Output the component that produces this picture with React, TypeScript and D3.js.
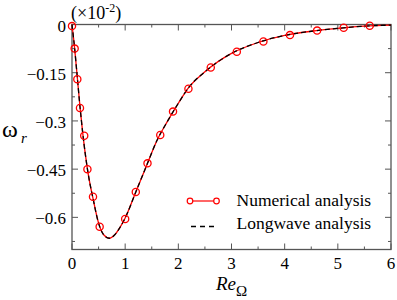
import React from "react";
import * as d3 from "d3";

// numerical analysis (markers)
const numRe = [0, 0.05, 0.1, 0.15, 0.23, 0.29, 0.395, 0.52, 1.0, 1.2, 1.42, 1.66, 1.9, 2.19, 2.61, 3.1, 3.6, 4.1, 4.61, 5.11, 5.6];
const numOmega = [-0.005, -0.075, -0.17, -0.26, -0.346, -0.45, -0.536, -0.629, -0.605, -0.521, -0.432, -0.344, -0.271, -0.2, -0.134, -0.085, -0.053, -0.033, -0.019, -0.01, -0.004];

// longwave analysis (curve)
const lwRe = [0, 0.05, 0.1, 0.15, 0.2, 0.3, 0.4, 0.5, 0.6, 0.7, 0.8, 0.9, 1.0, 1.2, 1.4, 1.6, 1.8, 2.0, 2.2, 2.5, 3.0, 3.5, 4.0, 4.5, 5.0, 5.5, 6.0];
const lwOmega = [0, -0.075, -0.165, -0.255, -0.335, -0.46, -0.545, -0.618, -0.655, -0.665, -0.655, -0.632, -0.602, -0.521, -0.44, -0.36, -0.3, -0.245, -0.195, -0.147, -0.09, -0.056, -0.034, -0.021, -0.012, -0.005, -0.002];

const xTicks = [0, 1, 2, 3, 4, 5, 6];
const yTicks = [0, -0.15, -0.3, -0.45, -0.6];
const xMinor = [0.5, 1.5, 2.5, 3.5, 4.5, 5.5];
const yMinor = [-0.075, -0.225, -0.375, -0.525, -0.675];

const W = 397;
const H = 300;
const serif = "'Times New Roman', serif";

export default function App() {
  const x = d3.scaleLinear().domain([0, 6]).range([72, 391]);
  const y = d3.scaleLinear().domain([-0.7, 0]).range([249.5, 24.5]);
  const [x0, x1] = x.range();
  const [y0, y1] = y.range();

  const lwData = lwRe.map((r, i) => [r, lwOmega[i]] as [number, number]);
  const numData = numRe.map((r, i) => [r, numOmega[i]] as [number, number]);

  const line = d3
    .line<[number, number]>()
    .x(d => x(d[0]))
    .y(d => y(d[1]))
    .curve(d3.curveMonotoneX);

  const axisColor = "#555";
  const ff = { fontFamily: serif };

  return (
    <svg width={W} height={H} style={{ position: "absolute", left: 0, top: 0 }}>
      <rect width={W} height={H} fill="white" />

      {/* frame */}
      <rect x={x0} y={y1} width={x1 - x0} height={y0 - y1} fill="none" stroke={axisColor} strokeWidth={1.3} />

      {/* ticks, inward on all four sides */}
      <g stroke={axisColor} strokeWidth={1}>
        {xTicks.map(t => (
          <g key={"xt" + t}>
            <line x1={x(t)} x2={x(t)} y1={y0} y2={y0 - 6} />
            <line x1={x(t)} x2={x(t)} y1={y1} y2={y1 + 6} />
          </g>
        ))}
        {xMinor.map(t => (
          <g key={"xm" + t}>
            <line x1={x(t)} x2={x(t)} y1={y0} y2={y0 - 3} />
            <line x1={x(t)} x2={x(t)} y1={y1} y2={y1 + 3} />
          </g>
        ))}
        {yTicks.map(t => (
          <g key={"yt" + t}>
            <line x1={x0} x2={x0 + 6} y1={y(t)} y2={y(t)} />
            <line x1={x1} x2={x1 - 6} y1={y(t)} y2={y(t)} />
          </g>
        ))}
        {yMinor.map(t => (
          <g key={"ym" + t}>
            <line x1={x0} x2={x0 + 3} y1={y(t)} y2={y(t)} />
            <line x1={x1} x2={x1 - 3} y1={y(t)} y2={y(t)} />
          </g>
        ))}
      </g>

      {/* tick labels */}
      <g fontSize={17} fill="black">
        {xTicks.map(t => (
          <text key={"xl" + t} x={x(t)} y={y0 + 19} textAnchor="middle" style={ff}>
            {t}
          </text>
        ))}
        {yTicks.map(t => (
          <text key={"yl" + t} x={x0 - 6} y={y(t)} dy="0.42em" textAnchor="end" style={ff}>
            {t === 0 ? "0" : d3.format("")(t)}
          </text>
        ))}
      </g>

      {/* scale factor */}
      <text x={71} y={19} fontSize={18} style={ff}>
        (×10
        <tspan fontSize={12} dy={-7}>-2</tspan>
        <tspan dy={7}>)</tspan>
      </text>

      {/* axis titles */}
      <text x={2} y={137} fontSize={24} style={ff}>ω</text>
      <text x={21} y={143} fontSize={15} fontStyle="italic" style={ff}>r</text>
      <text x={x(3)} y={290} textAnchor="middle" fontSize={19} style={ff}>
        <tspan fontStyle="italic">Re</tspan>
        <tspan fontSize={15} dy={6}>Ω</tspan>
      </text>

      {/* curves */}
      <path d={line(lwData) ?? ""} fill="none" stroke="#ff0000" strokeWidth={1.3} />
      <path d={line(lwData) ?? ""} fill="none" stroke="black" strokeWidth={1.3} strokeDasharray="5,3" />
      {numData.map((d, i) => (
        <circle key={i} cx={x(d[0])} cy={y(d[1])} r={3.6} fill="none" stroke="#ff0000" strokeWidth={1.3} />
      ))}

      {/* legend */}
      <g>
        <line x1={190} x2={216.5} y1={201} y2={201} stroke="#ff0000" strokeWidth={1.2} />
        <circle cx={190} cy={201} r={2.8} fill="white" stroke="#ff0000" strokeWidth={1.2} />
        <circle cx={216.5} cy={201} r={2.8} fill="white" stroke="#ff0000" strokeWidth={1.2} />
        <text x={236.5} y={206} fontSize={17.5} style={ff}>Numerical analysis</text>
        <line x1={191} x2={217} y1={226.5} y2={226.5} stroke="black" strokeWidth={1.3} strokeDasharray="5,4" />
        <text x={236.5} y={228.5} fontSize={17.5} style={ff}>Longwave analysis</text>
      </g>
    </svg>
  );
}
